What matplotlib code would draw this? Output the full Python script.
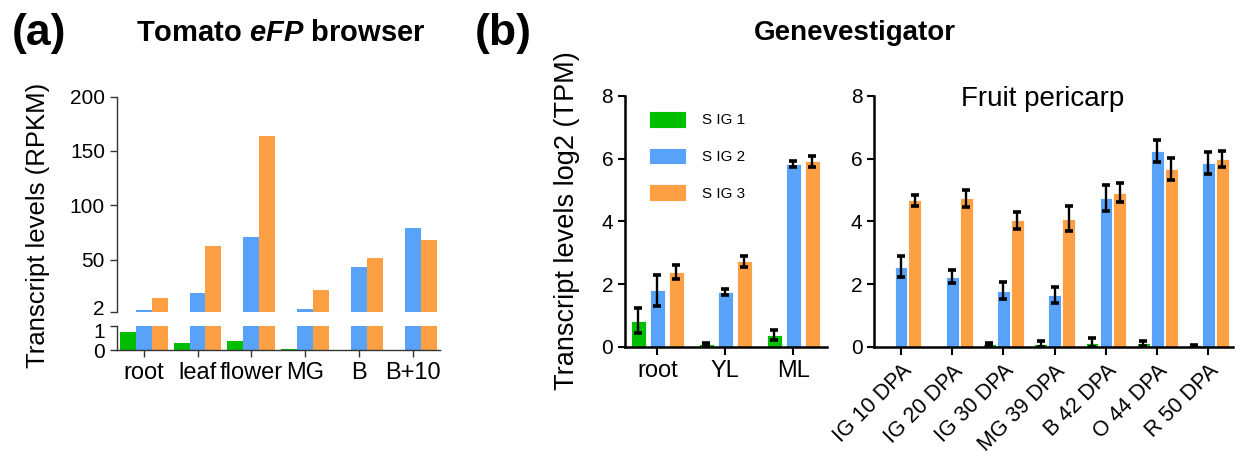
import numpy as np
import matplotlib
matplotlib.use('Agg')
import matplotlib.pyplot as plt
import matplotlib.transforms as mtransforms
from matplotlib.patches import Patch

plt.rcParams['font.family'] = ['Liberation Sans', 'DejaVu Sans']
plt.rcParams['mathtext.fontset'] = 'custom'
plt.rcParams['mathtext.rm'] = 'Liberation Sans'
plt.rcParams['mathtext.bfit'] = 'Liberation Sans:italic:bold'

# --- DATA ---
series_names = ['S IG 1', 'S IG 2', 'S IG 3']

efp_tissues = ['root', 'leaf', 'flower', 'MG', 'B', 'B+10']
efp_sig1 = [0.76, 0.30, 0.39, 0.05, 0.0, 0.0]
efp_sig2 = [3.6, 19.2, 70.8, 4.5, 43.2, 79.0]
efp_sig3 = [14.6, 62.5, 163.8, 22.0, 51.4, 68.0]

gv_tissues = ['root', 'YL', 'ML']
gv_sig1 = [0.83, 0.085, 0.36]
gv_sig1_err = [0.39, 0.02, 0.16]
gv_sig2 = [1.80, 1.74, 5.82]
gv_sig2_err = [0.50, 0.10, 0.10]
gv_sig3 = [2.38, 2.73, 5.91]
gv_sig3_err = [0.23, 0.18, 0.18]

pc_stages = ['IG 10 DPA', 'IG 20 DPA', 'IG 30 DPA', 'MG 39 DPA', 'B 42 DPA', 'O 44 DPA', 'R 50 DPA']
pc_sig1 = [np.nan, np.nan, 0.075, 0.09, 0.13, 0.11, 0.04]
pc_sig1_err = [np.nan, np.nan, 0.03, 0.09, 0.15, 0.08, 0.02]
pc_sig2 = [2.55, 2.24, 1.78, 1.65, 4.75, 6.24, 5.85]
pc_sig2_err = [0.33, 0.20, 0.27, 0.25, 0.42, 0.35, 0.35]
pc_sig3 = [4.67, 4.73, 4.04, 4.08, 4.92, 5.66, 6.00]
pc_sig3_err = [0.17, 0.28, 0.27, 0.40, 0.30, 0.35, 0.25]

COLORS = ['#00BF00', '#58A2FA', '#FDA044']
W, H = 1241, 459


def frac(x, y):
    return x / W, 1 - y / H


def axes_px(fig, x0, y0, x1, y1):
    # pixel box (top-left origin) -> figure axes
    return fig.add_axes([x0 / W, 1 - y1 / H, (x1 - x0) / W, (y1 - y0) / H])


def nudge(label, dy_px):
    off = mtransforms.ScaledTranslation(0, dy_px / 100, fig.dpi_scale_trans)
    label.set_transform(label.get_transform() + off)


fig = plt.figure(figsize=(W / 100, H / 100), dpi=100)

# --- PANEL (a): broken axis ---
ax_top = axes_px(fig, 116.7, 96.7, 440, 311.7)
ax_bot = axes_px(fig, 116.7, 326, 440, 350)

x_a = np.arange(len(efp_tissues))
bw = 0.296
for ax in (ax_top, ax_bot):
    for i, vals in enumerate([efp_sig1, efp_sig2, efp_sig3]):
        ax.bar(x_a + (i - 1) * bw, vals, bw, color=COLORS[i], linewidth=0)
    ax.set_xlim(-0.5, 5.5)
    for s in ('top', 'right'):
        ax.spines[s].set_visible(False)
    for s in ('left', 'bottom'):
        ax.spines[s].set_color('#333333')
        ax.spines[s].set_linewidth(1.0)
    ax.tick_params(colors='#333333', labelcolor='black', length=5, width=1.0, labelsize=15)

ax_top.set_ylim(2, 200)
ax_top.set_yticks([2, 50, 100, 150, 200])
ax_top.spines['bottom'].set_visible(False)
ax_top.set_xticks([])

ax_bot.set_ylim(0, 1)
ax_bot.set_yticks([0, 1])
ax_bot.set_xticks(x_a)
ax_bot.set_xticklabels(efp_tissues, fontsize=17)
ax_bot.tick_params(axis='y', pad=3.5)

fig.canvas.draw()
nudge(ax_top.get_yticklabels()[0], 4)
nudge(ax_bot.get_yticklabels()[1], -5)

# --- PANEL (b) ---
ax_l = axes_px(fig, 625, 96, 826.7, 346.7)
ax_r = axes_px(fig, 874.3, 96, 1233, 346.7)


def grouped(ax, n, vals, errs, width, pitch):
    x = np.arange(n)
    for i, (v, e) in enumerate(zip(vals, errs)):
        pos = x + (i - 1) * pitch
        ax.bar(pos, v, width, color=COLORS[i], edgecolor='white', linewidth=0.6)
        ax.errorbar(pos, v, yerr=e, fmt='none', ecolor='black', elinewidth=1.7,
                    capsize=2.8, capthick=2.6)
    return x


x_l = grouped(ax_l, len(gv_tissues), [gv_sig1, gv_sig2, gv_sig3],
              [gv_sig1_err, gv_sig2_err, gv_sig3_err], 0.22, 0.28)
x_r = grouped(ax_r, len(pc_stages), [pc_sig1, pc_sig2, pc_sig3],
              [pc_sig1_err, pc_sig2_err, pc_sig3_err], 0.25, 0.272)

for ax in (ax_l, ax_r):
    ax.set_ylim(0, 8)
    ax.set_yticks([0, 2, 4, 6, 8])
    for s in ('top', 'right'):
        ax.spines[s].set_visible(False)
    for s in ('left', 'bottom'):
        ax.spines[s].set_linewidth(1.8)
    ax.tick_params(length=5, width=1.5, labelsize=15)
    ax.tick_params(axis='x', length=6)

ax_l.set_xlim(-0.475, 2.49)
ax_l.set_xticks(x_l)
ax_l.set_xticklabels(gv_tissues, fontsize=17)

ax_r.set_xlim(-0.52, 6.48)
ax_r.set_xticks(x_r)
ax_r.set_xticklabels(pc_stages, fontsize=15.5, rotation=45, ha='right', va='top',
                     rotation_mode='anchor')
ax_r.tick_params(axis='x', pad=4)
ax_r.text(0.47, 0.99, 'Fruit pericarp', transform=ax_r.transAxes, ha='center',
          va='center', fontsize=20)

handles = [Patch(facecolor=c, edgecolor='white', linewidth=0.6) for c in COLORS]
ax_l.legend(handles, series_names, loc='upper left', bbox_to_anchor=(0.119, 0.94),
            frameon=False, fontsize=11, handlelength=2.42, handleheight=1.3,
            labelspacing=1.3, handletextpad=1.05, borderpad=0, borderaxespad=0)

# --- TITLES / LABELS ---
fig.text(*frac(39, 33), '(a)', fontsize=32, fontweight='bold', ha='center', va='center')
fig.text(*frac(503, 33), '(b)', fontsize=32, fontweight='bold', ha='center', va='center')
fig.text(*frac(281, 33), r'Tomato $\mathbfit{eFP}$ browser', fontsize=21,
         fontweight='bold', ha='center', va='center')
fig.text(*frac(855, 33), 'Genevestigator', fontsize=20, fontweight='bold',
         ha='center', va='center')
fig.text(*frac(38.5, 225), 'Transcript levels (RPKM)', fontsize=18.5, rotation=90,
         ha='center', va='center')
fig.text(*frac(567, 221), 'Transcript levels log2 (TPM)', fontsize=19.5, rotation=90,
         ha='center', va='center')

fig.savefig('out.png', dpi=100)
